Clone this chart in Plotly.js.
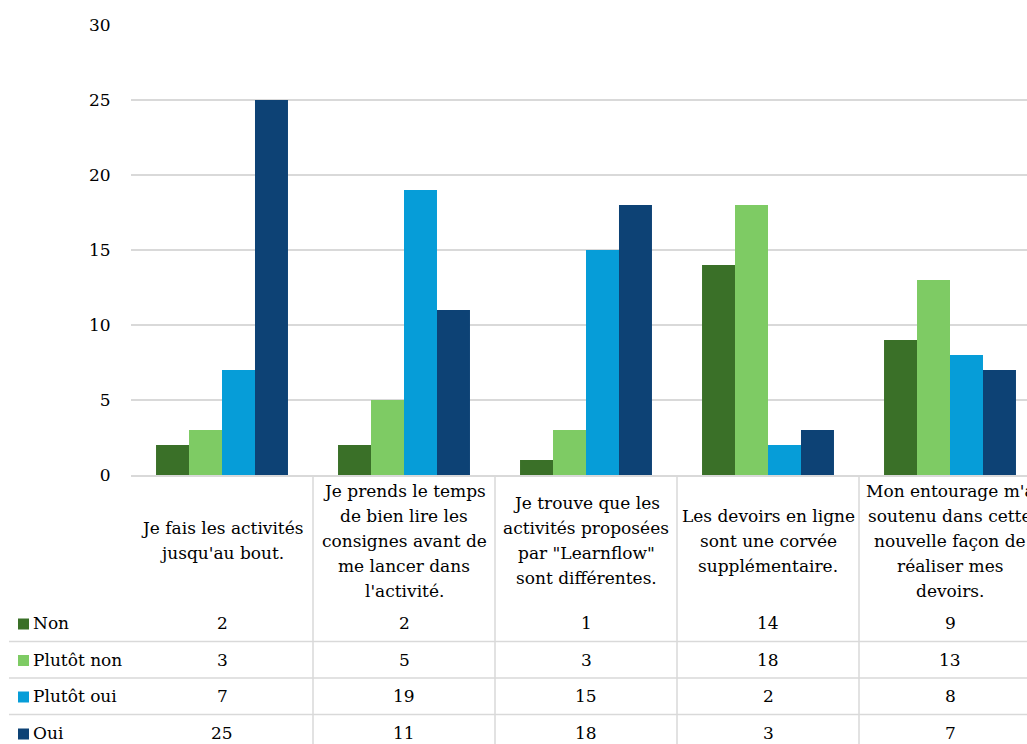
<!DOCTYPE html>
<html>
<head>
<meta charset="utf-8">
<script src="https://cdn.plot.ly/plotly-3.0.1.min.js"></script>
<style>
  html, body { margin: 0; padding: 0; background: #ffffff; }
  #chart { width: 1027px; height: 744px; }
</style>
</head>
<body>
<div id="chart"></div>
<script>
// Survey statements (column headers of the data table)
const categories = [
  "Je fais les activités<br>jusqu'au bout.",
  "Je prends le temps<br>de bien lire les<br>consignes avant de<br>me lancer dans<br>l'activité.",
  "Je trouve que les<br>activités proposées<br>par \"Learnflow\"<br>sont différentes.",
  "Les devoirs en ligne<br>sont une corvée<br>supplémentaire.",
  "Mon entourage m'a<br>soutenu dans cette<br>nouvelle façon de<br>réaliser mes<br>devoirs."
];
const seriesNames = ["Non", "Plutôt non", "Plutôt oui", "Oui"];
const nonValues = [2, 2, 1, 14, 9];
const plutotNonValues = [3, 5, 3, 18, 13];
const plutotOuiValues = [7, 19, 15, 2, 8];
const ouiValues = [25, 11, 18, 3, 7];
const seriesValues = [nonValues, plutotNonValues, plutotOuiValues, ouiValues];
const seriesColors = ["#3A7028", "#7ECB64", "#069DD8", "#0D4275"];
const yTicks = [0, 5, 10, 15, 20, 25, 30];

const FONT = "DejaVu Serif";
const FSIZE = 17;
const TXT = "#000000";
const GRID = "#D9D9D9";
const W = 1027, H = 744;
const M = { l: 131, r: 0, t: 25, b: 269 };
const plotH = H - M.t - M.b;          // 450 px
const plotW = W - M.l - M.r;          // 896 px
const catW = 182;                     // px per category

// pixel helpers -> paper coordinates
const py = p => (H - M.b - p) / plotH;
const px = p => (p - M.l) / plotW;

const xIdx = categories.map((_, i) => i);

const traces = seriesNames.map((name, s) => ({
  type: "bar",
  name: name,
  x: xIdx,
  y: seriesValues[s],
  marker: { color: seriesColors[s], line: { width: 0 } },
  showlegend: false,
  hoverinfo: "skip"
}));

const shapes = [];
const annotations = [];
const font = { family: FONT, size: FSIZE, color: TXT };

// vertical separators of the data table
for (let i = 0; i < categories.length - 1; i++) {
  shapes.push({
    type: "line", xref: "x", yref: "paper",
    x0: i + 0.5, x1: i + 0.5, y0: 0, y1: py(760),
    line: { color: GRID, width: 1.5 }
  });
}
// horizontal separators between value rows
const rowLines = [641.5, 678, 714.5];
rowLines.forEach(p => {
  shapes.push({
    type: "line", xref: "paper", yref: "paper",
    x0: px(9), x1: px(1040), y0: py(p), y1: py(p),
    line: { color: GRID, width: 1.5 }
  });
});

// column headers, one annotation per line for a fixed line pitch
const headerCenter = 540.5, linePitch = 25;
categories.forEach((c, i) => {
  const lines = c.split("<br>");
  lines.forEach((ln, k) => {
    const yc = headerCenter + (k - (lines.length - 1) / 2) * linePitch;
    annotations.push({
      xref: "x", yref: "paper", x: i, y: py(yc),
      text: ln, showarrow: false, xanchor: "center", yanchor: "middle",
      font: font
    });
  });
});

// value rows with legend keys
const rowCenters = [623, 659.5, 696, 733];
seriesNames.forEach((name, s) => {
  const yc = rowCenters[s];
  shapes.push({
    type: "rect", xref: "paper", yref: "paper",
    x0: px(18), x1: px(29), y0: py(yc - 4.5), y1: py(yc + 6.5),
    fillcolor: seriesColors[s], line: { width: 0 }
  });
  annotations.push({
    xref: "paper", yref: "paper", x: px(31), y: py(yc),
    text: name, showarrow: false, xanchor: "left", yanchor: "middle",
    font: font
  });
  seriesValues[s].forEach((v, i) => {
    annotations.push({
      xref: "x", yref: "paper", x: i, y: py(yc),
      text: String(v), showarrow: false, xanchor: "center", yanchor: "middle",
      font: font
    });
  });
});

const layout = {
  width: W, height: H,
  margin: M,
  paper_bgcolor: "#ffffff",
  plot_bgcolor: "#ffffff",
  barmode: "group",
  bargap: 0.275,
  bargroupgap: 0,
  font: font,
  xaxis: {
    type: "linear",
    range: [-0.5, -0.5 + plotW / catW],
    showticklabels: false,
    showgrid: false,
    zeroline: false,
    showline: true,
    linecolor: GRID,
    linewidth: 1.5,
    ticks: "",
    fixedrange: true
  },
  yaxis: {
    range: [0, 30],
    tickvals: yTicks,
    ticktext: yTicks.map(String),
    showgrid: true,
    gridcolor: GRID,
    gridwidth: 1.5,
    zeroline: false,
    showline: false,
    ticks: "outside",
    ticklen: 16,
    tickcolor: "rgba(0,0,0,0)",
    tickfont: font,
    fixedrange: true
  },
  shapes: shapes,
  annotations: annotations
};

Plotly.newPlot("chart", traces, layout, { staticPlot: true, displayModeBar: false });
</script>
</body>
</html>
